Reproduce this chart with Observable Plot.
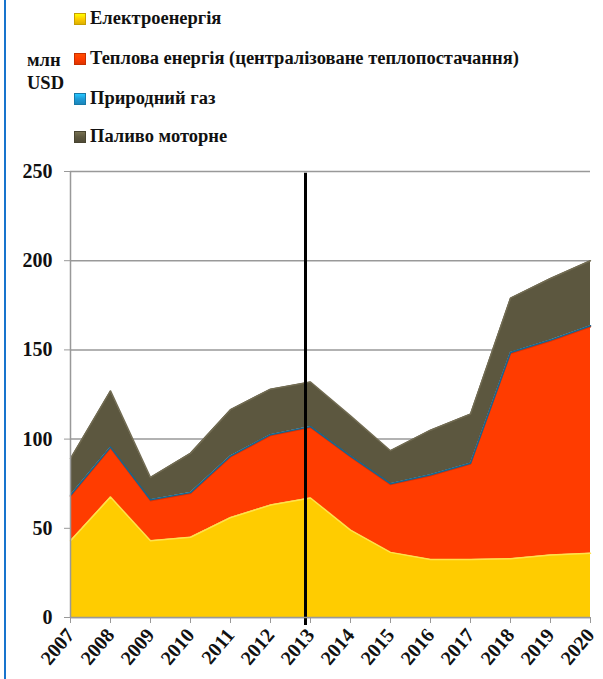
<!DOCTYPE html>
<html>
<head>
<meta charset="utf-8">
<script src="https://cdn.jsdelivr.net/npm/d3@7"></script>
<script src="https://cdn.jsdelivr.net/npm/@observablehq/plot@0.6"></script>
<style>
  html, body { margin: 0; padding: 0; background: #fff; }
  #wrap { position: relative; width: 603px; height: 679px; overflow: hidden; font-family: "Liberation Serif", "Times New Roman", serif; font-weight: bold; }
  #bar { position: absolute; left: 4px; top: 0; width: 2px; height: 679px; background: #1874cd; }
  #unit { position: absolute; left: 27px; top: 49px; font-size: 18.5px; line-height: 23px; color: #111; }
  .lg { position: absolute; left: 74px; font-size: 18.5px; color: #111; white-space: nowrap; display: flex; align-items: center; font-family: "Liberation Serif", serif; }
  .sw { width: 12px; height: 12px; margin-right: 4px; box-sizing: border-box; }
  #chart { position: absolute; left: 0; top: 0; }
</style>
</head>
<body>
<div id="wrap">
  <div id="bar"></div>
  <div id="unit">млн<br>USD</div>
  <div id="legend"></div>
  <div id="chart"></div>
</div>
<script>
const years = [2007, 2008, 2009, 2010, 2011, 2012, 2013, 2014, 2015, 2016, 2017, 2018, 2019, 2020];
const seriesNames = ["Електроенергія", "Теплова енергія (централізоване теплопостачання)", "Природний газ", "Паливо моторне"];
const seriesColors = ["#FFCC00", "#FF3C00", "#1E9BD7", "#5C573F"];
const edgeColors = ["#FFE24A", "#E03000", "#16658f", "#716B52"];
const electricity = [43, 67.5, 43, 45, 56, 63, 67, 49, 36.5, 32.5, 32.5, 33, 35, 36];
const heat = [25, 27.5, 22.5, 24.5, 34, 39, 39.5, 41, 38, 47, 53.5, 115, 120, 127];
const gas = [0.5, 0.5, 0.5, 0.5, 0.5, 0.5, 0.5, 0.5, 0.5, 0.5, 0.5, 0.5, 0.5, 0.5];
const motor = [20.5, 31.5, 12.5, 22, 26, 25.5, 25, 22.5, 18.5, 25, 27.5, 30.5, 34.5, 36.5];
const yTicks = [0, 50, 100, 150, 200, 250];
const markerYear = 2013;

const seriesValues = [electricity, heat, gas, motor];
const data = [];
seriesNames.forEach((s, i) => years.forEach((y, j) => data.push({year: y, series: s, value: seriesValues[i][j]})));

// legend
const legend = document.getElementById("legend");
const legendTops = [8, 48, 88, 126];
seriesNames.forEach((s, i) => {
  const d = document.createElement("div");
  d.className = "lg";
  d.style.top = legendTops[i] + "px";
  const c = d3.color(seriesColors[i]);
  d.innerHTML = `<span class="sw" style="background:linear-gradient(180deg, ${c.brighter(0.7)}, ${seriesColors[i]} 50%, ${c.darker(0.4)}); border:1px solid ${c.darker(0.7)}"></span><span>${s}</span>`;
  legend.appendChild(d);
});

const chart = Plot.plot({
  width: 603,
  height: 679,
  marginLeft: 70,
  marginRight: 13,
  marginTop: 171,
  marginBottom: 62,
  style: {fontFamily: "'Liberation Serif', 'Times New Roman', serif", fontWeight: "bold", background: "transparent", color: "#111"},
  x: {domain: [years[0], years[years.length - 1]], ticks: years, tickFormat: "d", label: null},
  y: {domain: [0, 250], ticks: yTicks, label: null},
  color: {domain: seriesNames, range: seriesColors},
  marks: [
    Plot.gridY(yTicks, {stroke: "#999", strokeOpacity: 1, strokeWidth: 1.5}),
    Plot.areaY(data, {x: "year", y: "value", fill: "series", order: seriesNames}),
    Plot.lineY(data, Plot.stackY2({x: "year", y: "value", z: "series", order: seriesNames, stroke: d => edgeColors[seriesNames.indexOf(d.series)], strokeWidth: 1.5})),
    Plot.ruleX([markerYear], {dx: -5, y1: -4.5, y2: 249, stroke: "#000", strokeWidth: 3}),
    Plot.axisY({ticks: yTicks, tickSize: 6, tickPadding: 12, fontSize: 20, stroke: "#999", label: null}),
    Plot.ruleX([years[0]], {stroke: "#999", strokeWidth: 1.5}),
    Plot.ruleY([0], {stroke: "#999", strokeWidth: 1.5}),
    Plot.axisX({ticks: years, tickFormat: "d", tickSize: 6, tickRotate: -50, fontSize: 20, tickPadding: 8, stroke: "#999", label: null})
  ]
});
document.getElementById("chart").appendChild(chart);
</script>
</body>
</html>
